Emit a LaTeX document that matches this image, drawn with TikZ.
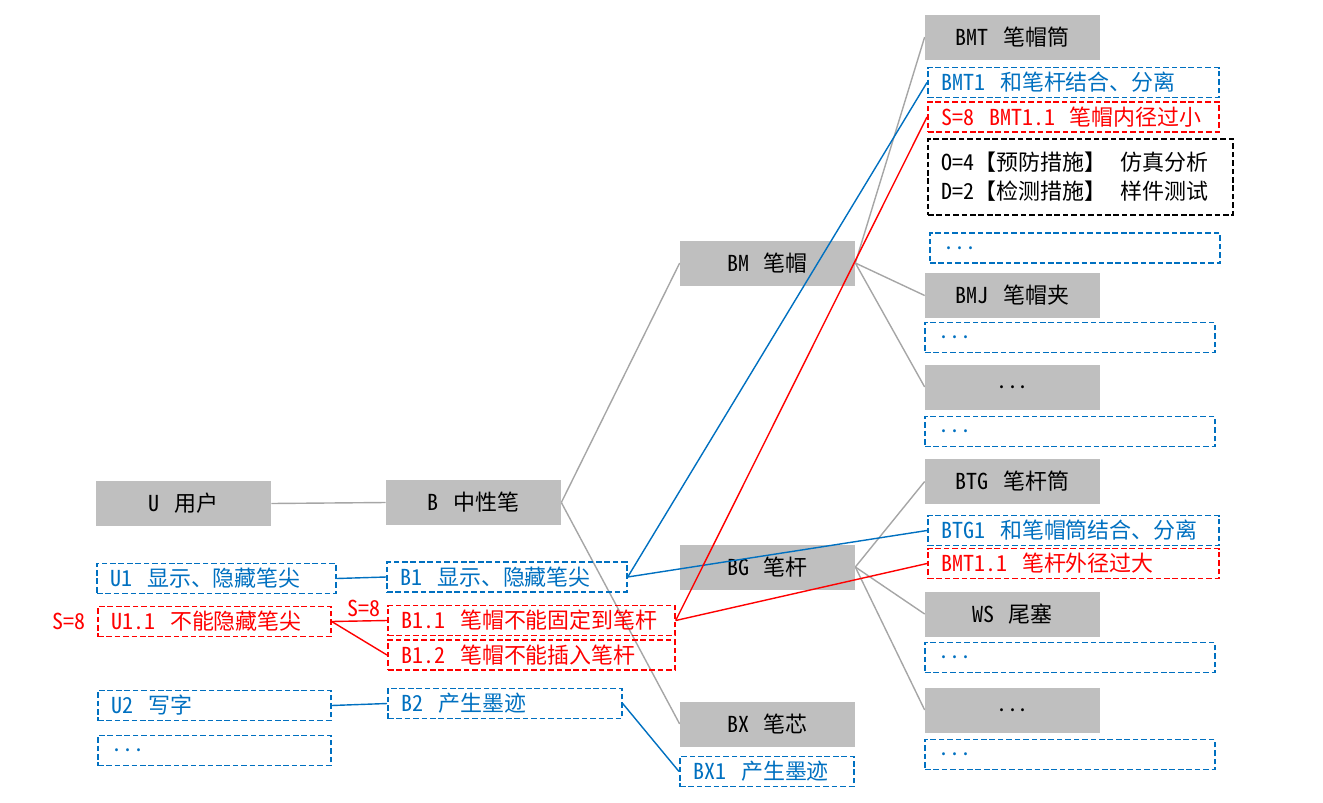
\documentclass[tikz,border=0pt]{standalone}
\usepackage{fontspec}
\setmainfont{Noto Sans CJK SC}[RawFeature={+hwid}, WordSpace=1.3]
\usepackage{tikz}
\usetikzlibrary{backgrounds,positioning}
\usepackage{xcolor}
\definecolor{partgray}{HTML}{BFBFBF}
\definecolor{linegray}{HTML}{A6A6A6}
\definecolor{fnblue}{HTML}{0070C0}
\definecolor{fmred}{HTML}{FF0000}
\newcommand{\fmeafont}{\fontsize{12.5pt}{15pt}\selectfont}
\newcommand{\measfont}{\fontsize{12.5pt}{16.5pt}\selectfont}

\begin{document}
\begin{tikzpicture}[x=0.02cm, y=-0.02cm,
    every node/.style={font=\fmeafont},
    part/.style={fill=partgray, minimum width=3.5cm, minimum height=0.9cm, inner sep=0pt},
    fbox/.style={draw, dashed, dash pattern=on 3.2pt off 1.6pt, line width=1pt, minimum height=0.6cm,
                 inner xsep=0.28cm, inner ysep=0pt, anchor=west, align=flush left, text width=#1},
    fnc/.style={fbox=#1, draw=fnblue, text=fnblue},
    flt/.style={fbox=#1, draw=fmred, text=fmred},
    tree/.style={draw=linegray, line width=0.8pt},
    fnline/.style={draw=fnblue, line width=0.8pt},
    fmline/.style={draw=fmred, line width=0.8pt},
    fmtext/.style={text=fmred, inner sep=0pt}]
    \useasboundingbox (0,0) rectangle (1323,802);

    % Structure tree
    \node[part] (u) at (183.5,503.5) {U 用户};
    \node[part] (b) at (473.5,502.5) {B 中性笔};
    \node[part] (bm) at (767.5,263) {BM 笔帽};
    \node[part] (bg) at (767.5,567) {BG 笔杆};
    \node[part] (bx) at (767.5,724) {BX 笔芯};
    \node[part] (bmt) at (1012.5,37) {BMT 笔帽筒};
    \node[part] (bmj) at (1012.5,295.5) {BMJ 笔帽夹};
    \node[part] (bmo) at (1012.5,387) {...};
    \node[part] (btg) at (1012.5,481.5) {BTG 笔杆筒};
    \node[part] (ws) at (1012.5,614) {WS 尾塞};
    \node[part] (bgo) at (1012.5,710) {...};

    % Functions and failures
    \node[fnc=4.22cm] (u1) at (96,578.5) {U1 显示、隐藏笔尖};
    \node[flt=4.10cm] (u11) at (97,621.5) {U1.1 不能隐藏笔尖};
    \node[fnc=4.10cm] (u2) at (97,705.5) {U2 写字};
    \node[fnc=4.10cm] (uo) at (97,750.5) {...};
    \node[fmtext, left=0.22cm of u11] (su11) {S=8};

    \node[fnc=4.24cm] (b1) at (386,577) {B1 显示、隐藏笔尖};
    \node[flt=5.18cm] (b11) at (387,620.5) {B1.1 笔帽不能固定到笔杆};
    \node[flt=5.18cm] (b12) at (387,655) {B1.2 笔帽不能插入笔杆};
    \node[fnc=4.12cm] (b2) at (387,703.5) {B2 产生墨迹};
    \node[fnc=2.92cm] (bx1) at (679,771.5) {BX1 产生墨迹};

    \node[fnc=5.26cm] (bmt1) at (927,82.5) {BMT1 和笔杆结合、分离};
    \node[flt=5.26cm] (bmt11) at (927,117) {S=8 BMT1.1 笔帽内径过小};
    \node[fbox=5.54cm, draw=black, minimum height=1.52cm, font=\measfont] (meas) at (927,177)
          {O=4【预防措施】 仿真分析\\D=2【检测措施】 样件测试};
    \node[fnc=5.24cm] (bmto) at (929,248) {...};
    \node[fnc=5.24cm] (bmjo) at (924,337.5) {...};
    \node[fnc=5.24cm] (bmoo) at (924,431.5) {...};
    \node[fnc=5.26cm] (btg1) at (927,530.5) {BTG1 和笔帽筒结合、分离};
    \node[flt=5.26cm] (btg11) at (927,563.5) {BMT1.1 笔杆外径过大};
    \node[fnc=5.24cm] (wso) at (924,657.5) {...};
    \node[fnc=5.24cm] (bgoo) at (924,754.5) {...};

    % Tree lines
    \begin{scope}[on background layer]
      \draw[tree] (u.east) -- (b.west);
      \draw[tree] (b.east) -- (bm.west);
      \draw[tree] (b.east) -- (bx.west);
      \draw[tree] (bm.east) -- (bmt.west);
      \draw[tree] (bm.east) -- (bmj.west);
      \draw[tree] (bm.east) -- (bmo.west);
      \draw[tree] (bg.east) -- (btg.west);
      \draw[tree] (bg.east) -- (ws.west);
      \draw[tree] (bg.east) -- (bgo.west);
    \end{scope}

    % Function links
    \draw[fnline] (u1.east) -- (b1.west);
    \draw[fnline] (u2.east) -- (b2.west);
    \draw[fnline] (b1.east) -- (bmt1.west);
    \draw[fnline] (b1.east) -- (btg1.west);
    \draw[fnline] (b2.east) -- (bx1.west);

    % Failure links
    \draw[fmline] (u11.east) -- node[fmtext, above=2pt, pos=0.58] (s8b) {S=8} (b11.west);
    \draw[fmline] (u11.east) -- (b12.west);
    \draw[fmline] (b11.east) -- (bmt11.west);
    \draw[fmline] (b11.east) -- (btg11.west);
\end{tikzpicture}
\end{document}
